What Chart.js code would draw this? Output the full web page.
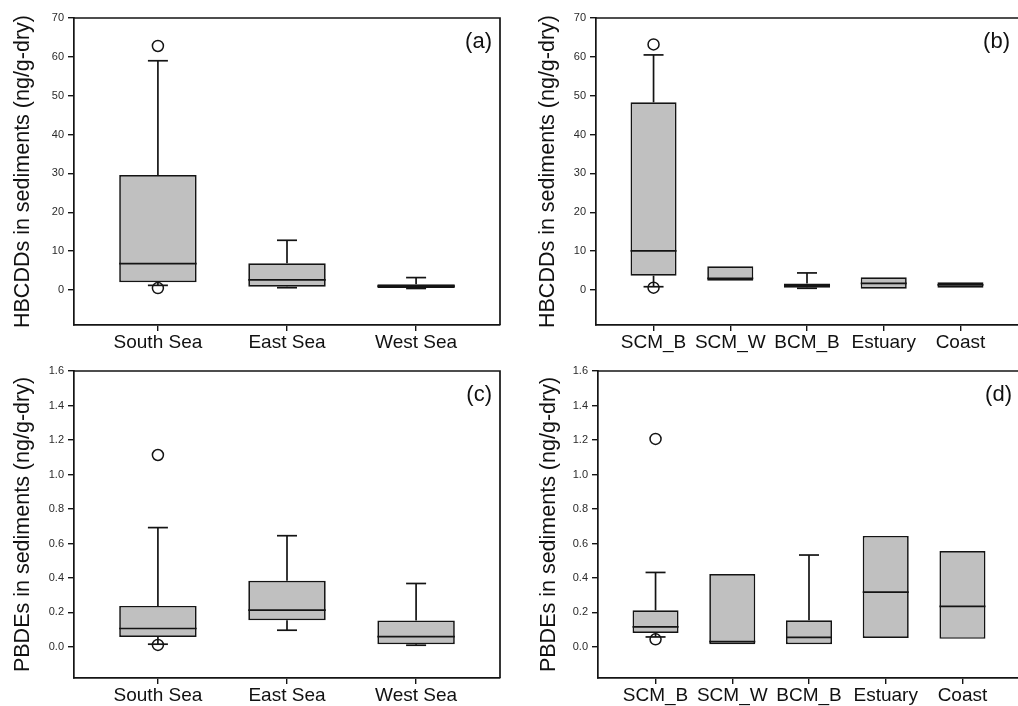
<!DOCTYPE html>
<html>
<head>
<meta charset="utf-8">
<script src="https://cdn.jsdelivr.net/npm/chart.js@4"></script>
<style>
  html, body { margin: 0; padding: 0; background: #fff; overflow: hidden; width: 1018px; height: 706px; }
  canvas { position: absolute; }
</style>
</head>
<body>
<canvas id="chartA" width="509" height="362" style="left:0px;top:0px"></canvas>
<canvas id="chartB" width="500" height="362" style="left:525px;top:0px"></canvas>
<canvas id="chartC" width="509" height="353" style="left:0px;top:353px"></canvas>
<canvas id="chartD" width="500" height="353" style="left:527px;top:353px"></canvas>
<script>
// categories
const seaCats = ['South Sea', 'East Sea', 'West Sea'];
const siteCats = ['SCM_B', 'SCM_W', 'BCM_B', 'Estuary', 'Coast'];

// tick labels
const hbcddTicks = [0, 10, 20, 30, 40, 50, 60, 70];
const pbdeTicks = [0, 0.2, 0.4, 0.6, 0.8, 1.0, 1.2, 1.4, 1.6];

// (a) HBCDDs by sea
const hbcddSeaQ1  = [2.0, 0.85, 0.5];
const hbcddSeaMed = [6.8, 2.6, 1.0];
const hbcddSeaQ3  = [29.6, 6.9, 1.5];
const hbcddSeaLo  = [1.2, 0.6, 0.4];
const hbcddSeaHi  = [59.0, 12.8, 3.2];
const hbcddSeaOut = [[62.8, 0.5], [], []];

// (b) HBCDDs by site
const hbcddSiteQ1  = [3.7, 2.4, 0.6, 0.35, 0.6];
const hbcddSiteMed = [10.1, 3.0, 1.2, 1.7, 1.3];
const hbcddSiteQ3  = [48.3, 6.1, 1.7, 3.3, 2.0];
const hbcddSiteLo  = [0.85, null, 0.45, null, null];
const hbcddSiteHi  = [60.5, null, 4.4, null, null];
const hbcddSiteOut = [[63.2, 0.6], [], [], [], []];

// (c) PBDEs by sea
const pbdeSeaQ1  = [0.058, 0.155, 0.016];
const pbdeSeaMed = [0.107, 0.213, 0.06];
const pbdeSeaQ3  = [0.238, 0.384, 0.153];
const pbdeSeaLo  = [0.016, 0.097, 0.01];
const pbdeSeaHi  = [0.692, 0.645, 0.368];
const pbdeSeaOut = [[1.113, 0.012], [], []];

// (d) PBDEs by site
const pbdeSiteQ1  = [0.081, 0.016, 0.016, 0.052, 0.047];
const pbdeSiteMed = [0.116, 0.031, 0.056, 0.318, 0.235];
const pbdeSiteQ3  = [0.213, 0.423, 0.155, 0.644, 0.556];
const pbdeSiteLo  = [0.058, null, null, null, null];
const pbdeSiteHi  = [0.432, null, 0.533, null, null];
const pbdeSiteOut = [[1.206, 0.044], [], [], [], []];

const FONT = "'Liberation Sans', Arial, sans-serif";
const INK = '#141414';
const LW = 1.7;

// medians, whiskers, caps, top/right frame and the panel letter
const boxPlugin = {
  id: 'boxExtras',
  afterDatasetsDraw(chart) {
    const o = chart.options.plugins.boxExtras;
    const x = chart.scales.x, y = chart.scales.y;
    const meta = chart.getDatasetMeta(0);
    const ctx = chart.ctx;
    ctx.save();
    ctx.strokeStyle = INK;
    ctx.lineWidth = LW;
    const line = (x1, y1, x2, y2) => {
      ctx.beginPath(); ctx.moveTo(x1, y1); ctx.lineTo(x2, y2); ctx.stroke();
    };
    o.med.forEach((m, i) => {
      const cx = x.getPixelForValue(i + 1);
      const hw = meta.data[i].width / 2;
      line(cx - hw, y.getPixelForValue(m), cx + hw, y.getPixelForValue(m));
      if (o.hi[i] != null) {
        const yh = y.getPixelForValue(o.hi[i]);
        line(cx, y.getPixelForValue(o.q3[i]), cx, yh);
        line(cx - 10, yh, cx + 10, yh);
      }
      if (o.lo[i] != null) {
        const yl = y.getPixelForValue(o.lo[i]);
        line(cx, y.getPixelForValue(o.q1[i]), cx, yl);
        line(cx - 10, yl, cx + 10, yl);
      }
    });
    ctx.restore();
  },
  afterDraw(chart) {
    const o = chart.options.plugins.boxExtras;
    const a = chart.chartArea;
    const ctx = chart.ctx;
    ctx.save();
    ctx.strokeStyle = INK;
    ctx.lineWidth = LW;
    ctx.beginPath();
    ctx.moveTo(a.left, a.top);
    ctx.lineTo(a.right, a.top);
    if (o.rightBorder) ctx.lineTo(a.right, a.bottom);
    ctx.stroke();
    ctx.fillStyle = '#111';
    ctx.font = '22px ' + FONT;
    ctx.textAlign = 'right';
    ctx.textBaseline = 'middle';
    ctx.fillText(o.letter, a.right - 8, a.top + 24);
    ctx.restore();
  }
};

function makePanel(id, p) {
  const outPts = [];
  p.out.forEach((vals, i) => vals.forEach(v => outPts.push({ x: i + 1, y: v })));
  return new Chart(document.getElementById(id), {
    type: 'bar',
    data: {
      datasets: [
        {
          type: 'bar',
          data: p.cats.map((c, i) => ({ x: i + 1, y: [p.q1[i], p.q3[i]] })),
          backgroundColor: '#c0c0c0',
          borderColor: INK,
          borderWidth: LW,
          borderSkipped: false,
          barPercentage: 0.6,
          categoryPercentage: 1.0
        },
        {
          type: 'scatter',
          data: outPts,
          pointStyle: 'circle',
          pointRadius: 5.5,
          pointBackgroundColor: 'rgba(0,0,0,0)',
          pointBorderColor: INK,
          pointBorderWidth: 1.5
        }
      ]
    },
    options: {
      responsive: false,
      animation: false,
      layout: { padding: { left: 0, top: 18, right: p.padRight, bottom: p.padBottom } },
      plugins: {
        legend: { display: false },
        tooltip: { enabled: false },
        boxExtras: { letter: p.letter, rightBorder: p.rightBorder, q1: p.q1, q3: p.q3, med: p.med, lo: p.lo, hi: p.hi }
      },
      scales: {
        x: {
          type: 'linear',
          min: p.xMin,
          max: p.xMax,
          offset: false,
          afterBuildTicks: s => { s.ticks = p.cats.map((c, i) => ({ value: i + 1 })); },
          afterFit: s => { s.height = 28; },
          grid: { display: true, offset: false, drawOnChartArea: false, drawTicks: true, tickLength: 6, color: INK, lineWidth: 1.4 },
          border: { display: true, color: INK, width: LW },
          ticks: {
            padding: 0,
            color: '#111',
            font: { family: FONT, size: 19 },
            maxRotation: 0,
            autoSkip: false,
            callback: (v) => p.cats[Math.round(v) - 1]
          }
        },
        y: {
          type: 'linear',
          min: p.yMin,
          max: p.yMax,
          afterBuildTicks: s => { s.ticks = p.yTicks.map(v => ({ value: v })); },
          afterFit: s => { s.width = p.yWidth; },
          grid: { display: true, drawOnChartArea: false, drawTicks: true, tickLength: 6, color: INK, lineWidth: 1.4 },
          border: { display: true, color: INK, width: LW },
          ticks: {
            padding: 4,
            color: '#2a2a2a',
            font: { family: FONT, size: 11 },
            callback: (v) => p.fmt(v)
          },
          title: {
            display: true,
            text: p.title,
            color: '#111',
            font: { family: FONT, size: 21.5 },
            padding: { top: p.titlePad, bottom: 0 }
          }
        }
      }
    },
    plugins: [boxPlugin]
  });
}

makePanel('chartA', {
  letter: '(a)', cats: seaCats, q1: hbcddSeaQ1, med: hbcddSeaMed, q3: hbcddSeaQ3, lo: hbcddSeaLo, hi: hbcddSeaHi, out: hbcddSeaOut,
  xMin: 0.35, xMax: 3.65, yMin: -9, yMax: 70, yTicks: hbcddTicks, fmt: v => String(v),
  title: 'HBCDDs in sediments (ng/g-dry)', yWidth: 74, titlePad: 10, padRight: 9, padBottom: 9, rightBorder: true
});
makePanel('chartB', {
  letter: '(b)', cats: siteCats, q1: hbcddSiteQ1, med: hbcddSiteMed, q3: hbcddSiteQ3, lo: hbcddSiteLo, hi: hbcddSiteHi, out: hbcddSiteOut,
  xMin: 0.25, xMax: 5.75, yMin: -9, yMax: 70, yTicks: hbcddTicks, fmt: v => String(v),
  title: 'HBCDDs in sediments (ng/g-dry)', yWidth: 71, titlePad: 10, padRight: 4, padBottom: 9, rightBorder: false
});
makePanel('chartC', {
  letter: '(c)', cats: seaCats, q1: pbdeSeaQ1, med: pbdeSeaMed, q3: pbdeSeaQ3, lo: pbdeSeaLo, hi: pbdeSeaHi, out: pbdeSeaOut,
  xMin: 0.35, xMax: 3.65, yMin: -0.18, yMax: 1.6, yTicks: pbdeTicks, fmt: v => v.toFixed(1),
  title: 'PBDEs in sediments (ng/g-dry)', yWidth: 74, titlePad: 10, padRight: 9, padBottom: 0, rightBorder: true
});
makePanel('chartD', {
  letter: '(d)', cats: siteCats, q1: pbdeSiteQ1, med: pbdeSiteMed, q3: pbdeSiteQ3, lo: pbdeSiteLo, hi: pbdeSiteHi, out: pbdeSiteOut,
  xMin: 0.25, xMax: 5.75, yMin: -0.18, yMax: 1.6, yTicks: pbdeTicks, fmt: v => v.toFixed(1),
  title: 'PBDEs in sediments (ng/g-dry)', yWidth: 71, titlePad: 9, padRight: 4, padBottom: 0, rightBorder: false
});
</script>
</body>
</html>
